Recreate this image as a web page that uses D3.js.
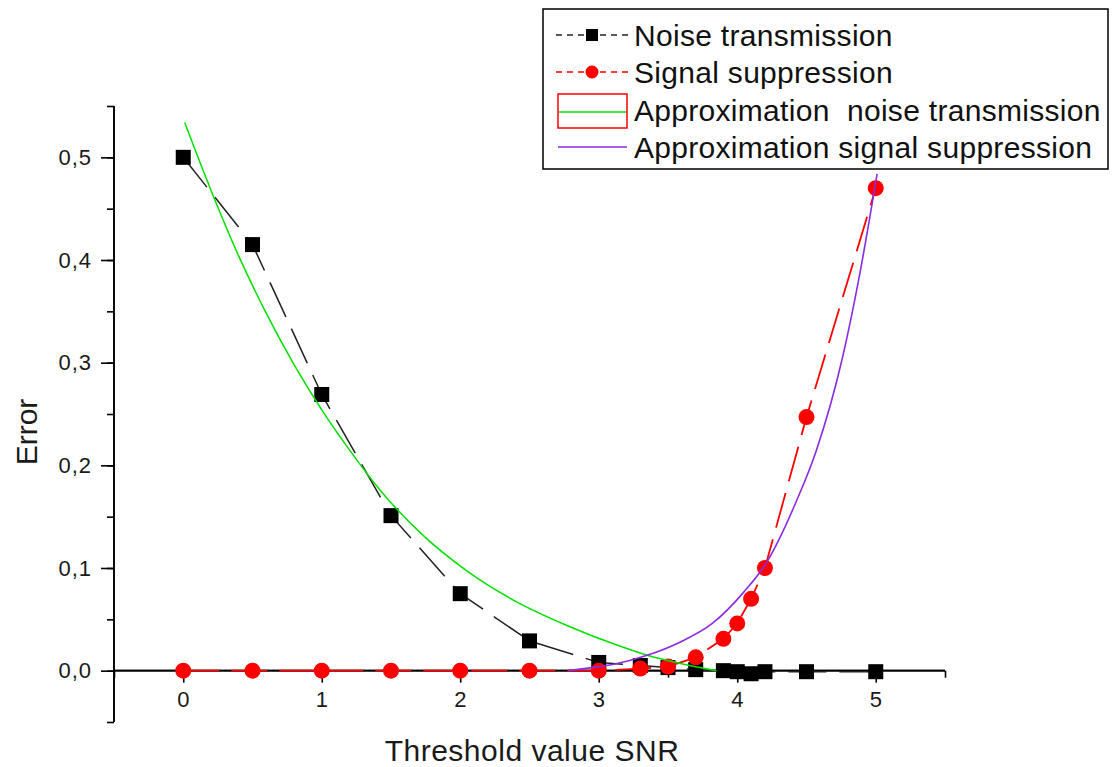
<!DOCTYPE html>
<html>
<head>
<meta charset="utf-8">
<script src="https://cdn.jsdelivr.net/npm/d3@7"></script>
<style>
  html, body { margin: 0; padding: 0; background: #fff; }
  svg { display: block; font-family: 'Liberation Sans', Arial, sans-serif; }
</style>
</head>
<body>
<script>
// measured points
const noiseX = [0, 0.5, 1, 1.5, 2, 2.5, 3, 3.3, 3.5, 3.7, 3.9, 4, 4.1, 4.2, 4.5, 5];
const noiseY = [0.5, 0.415, 0.269, 0.151, 0.075, 0.029, 0.008, 0.005, 0.003, 0.001, 0.0, -0.001, -0.003, -0.001, -0.001, -0.001];
const signalX = [0, 0.5, 1, 1.5, 2, 2.5, 3, 3.3, 3.5, 3.7, 3.9, 4, 4.1, 4.2, 4.5, 5];
const signalY = [0, 0, 0, 0, 0, 0, 0, 0.002, 0.004, 0.013, 0.031, 0.046, 0.07, 0.1, 0.247, 0.47];

// fitted curves
const fitNoiseX = [0.01, 0.2, 0.4, 0.6, 0.8, 1.0, 1.2, 1.42, 1.73, 2.05, 2.38, 2.77, 3.15, 3.35, 3.59, 3.85];
const fitNoiseY = [0.534, 0.468, 0.404, 0.348, 0.298, 0.254, 0.215, 0.176, 0.132, 0.097, 0.069, 0.044, 0.024, 0.015, 0.007, 0.0];
const fitSignalX = [2.78, 2.95, 3.1, 3.35, 3.59, 3.82, 4.05, 4.21, 4.43, 4.57, 4.76, 4.88, 5.01];
const fitSignalY = [0, 0.003, 0.006, 0.015, 0.028, 0.046, 0.077, 0.105, 0.166, 0.214, 0.305, 0.383, 0.484];

const xMajor = [0, 1, 2, 3, 4, 5];
const yMajor = [0, 0.1, 0.2, 0.3, 0.4, 0.5];
const legendLabels = ['Noise transmission', 'Signal suppression', 'Approximation  noise transmission', 'Approximation signal suppression'];

const W = 1115, H = 767;
const svg = d3.select('body').append('svg').attr('width', W).attr('height', H);

const x = d3.scaleLinear().domain([-0.5, 5.5]).range([114, 945]);
const y = d3.scaleLinear().domain([-0.05, 0.55]).range([722, 106]);
const fmtY = (d) => d3.format('.1f')(d).replace('.', ',');
const tickFont = (sel) => sel.attr('fill', '#1a1a1a').style('font-size', '22px')
  .style('letter-spacing', '1px').style('font-family', "'Liberation Sans', Arial, sans-serif");

// y axis
const yAxisG = svg.append('g').attr('transform', `translate(${x(-0.5)},0)`);
yAxisG.call(d3.axisLeft(y).tickValues(d3.range(-0.05, 0.56, 0.05).map((v) => +v.toFixed(2))).tickSize(7).tickFormat(''));
yAxisG.append('g').call(d3.axisLeft(y).tickValues(yMajor).tickSize(13).tickPadding(9).tickFormat(fmtY));
yAxisG.selectAll('.domain').attr('stroke', '#000').attr('stroke-width', 1.6).attr('d', `M0,${y(-0.05)}V${y(0.55)}`);
yAxisG.selectAll('.tick line').attr('stroke', '#000').attr('stroke-width', 1.6);
yAxisG.selectAll('.tick text').call(tickFont);

// x axis at y = 0
const xAxisG = svg.append('g').attr('transform', `translate(0,${y(0)})`);
xAxisG.call(d3.axisBottom(x).tickValues(d3.range(-0.5, 5.6, 0.5).map((v) => +v.toFixed(1))).tickSize(7).tickFormat(''));
xAxisG.append('g').call(d3.axisBottom(x).tickValues(xMajor).tickSize(12).tickPadding(9).tickFormat(d3.format('d')));
xAxisG.selectAll('.domain').attr('stroke', '#000').attr('stroke-width', 1.6).attr('d', `M${x(-0.5)},0H${x(5.5)}`);
xAxisG.selectAll('.tick line').attr('stroke', '#000').attr('stroke-width', 1.6);
xAxisG.selectAll('.tick text').call(tickFont);

// axis titles
svg.append('text').attr('x', 532).attr('y', 761).attr('text-anchor', 'middle')
  .style('font-size', '30px').style('letter-spacing', '0.5px').attr('fill', '#1a1a1a').text('Threshold value SNR');
svg.append('text').attr('transform', 'translate(37,432) rotate(-90)').attr('text-anchor', 'middle')
  .style('font-size', '30px').attr('fill', '#1a1a1a').text('Error');

const plot = svg.append('g');
const line = d3.line().x((d) => x(d[0])).y((d) => y(d[1]));
const smooth = d3.line().x((d) => x(d[0])).y((d) => y(d[1])).curve(d3.curveMonotoneX);

// noise transmission
const noise = d3.zip(noiseX, noiseY);
plot.append('path').datum(noise).attr('d', line).attr('fill', 'none')
  .attr('stroke', '#222').attr('stroke-width', 1.5).attr('stroke-dasharray', '38,13');
plot.selectAll('rect.noise').data(noise).enter().append('rect').attr('class', 'noise')
  .attr('x', (d) => x(d[0]) - 7.5).attr('y', (d) => y(d[1]) - 7.5)
  .attr('width', 15).attr('height', 15).attr('fill', '#000');

// signal suppression
const signal = d3.zip(signalX, signalY);
plot.append('path').datum(signal).attr('d', line).attr('fill', 'none')
  .attr('stroke', '#f00').attr('stroke-width', 1.8).attr('stroke-dasharray', '36,12');
plot.selectAll('circle.signal').data(signal).enter().append('circle').attr('class', 'signal')
  .attr('cx', (d) => x(d[0])).attr('cy', (d) => y(d[1])).attr('r', 8).attr('fill', '#f00');

// fits
plot.append('path').datum(d3.zip(fitNoiseX, fitNoiseY)).attr('d', smooth).attr('fill', 'none')
  .attr('stroke', '#00e000').attr('stroke-width', 1.5);
plot.append('path').datum(d3.zip(fitSignalX, fitSignalY)).attr('d', smooth).attr('fill', 'none')
  .attr('stroke', '#8a2be2').attr('stroke-width', 1.6);

// legend
const legend = svg.append('g');
legend.append('rect').attr('x', 543).attr('y', 9).attr('width', 565).attr('height', 160)
  .attr('fill', '#fff').attr('stroke', '#000').attr('stroke-width', 1.5);
const rowY = [35, 72, 110, 147];
legend.selectAll('text').data(legendLabels).enter().append('text')
  .attr('x', 634).attr('y', (d, i) => rowY[i]).attr('dy', '0.35em')
  .style('font-size', '30px').style('letter-spacing', '0.3px').attr('fill', '#111')
  .attr('xml:space', 'preserve').text((d) => d);
legend.append('line').attr('x1', 556).attr('x2', 628).attr('y1', rowY[0]).attr('y2', rowY[0])
  .attr('stroke', '#222').attr('stroke-width', 1.5).attr('stroke-dasharray', '6,5');
legend.append('rect').attr('x', 586).attr('y', rowY[0] - 6).attr('width', 12).attr('height', 12).attr('fill', '#000');
legend.append('line').attr('x1', 556).attr('x2', 628).attr('y1', rowY[1]).attr('y2', rowY[1])
  .attr('stroke', '#f00').attr('stroke-width', 1.5).attr('stroke-dasharray', '6,5');
legend.append('circle').attr('cx', 592).attr('cy', rowY[1]).attr('r', 6.5).attr('fill', '#f00');
legend.append('rect').attr('x', 558).attr('y', 94).attr('width', 69).attr('height', 34)
  .attr('fill', 'none').attr('stroke', '#f00').attr('stroke-width', 1.5);
legend.append('line').attr('x1', 559).attr('x2', 626).attr('y1', 112).attr('y2', 112)
  .attr('stroke', '#00e000').attr('stroke-width', 1.6);
legend.append('line').attr('x1', 558).attr('x2', 627).attr('y1', rowY[3]).attr('y2', rowY[3])
  .attr('stroke', '#8a2be2').attr('stroke-width', 1.6);
</script>
</body>
</html>
